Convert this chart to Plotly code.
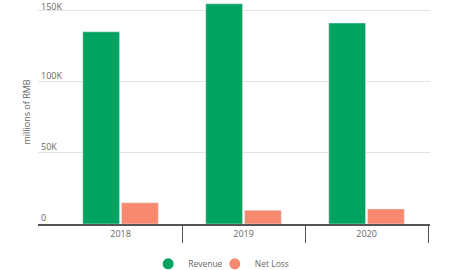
import plotly.graph_objects as go

years = ["2018", "2019", "2020"]
revenue = [135300, 155000, 141500]
net_loss = [14900, 9600, 10600]
series_names = ["Revenue", "Net Loss"]
colors = ["#00A360", "#F7896F"]
y_tick_vals = [0, 50000, 100000, 150000]
y_tick_text = ["0", "50K", "100K", "150K"]

font_family = "Open Sans"
text_color = "#666666"
y_range = [0, 157700]

fig = go.Figure()
for name, vals, col in zip(series_names, [revenue, net_loss], colors):
    fig.add_trace(go.Bar(x=years, y=vals, name=name, marker_color=col,
                         showlegend=False, hoverinfo="y"))
legend_ids = ["legend", "legend2"]
for name, col, lg in zip(series_names, colors, legend_ids):
    fig.add_trace(go.Scatter(x=[None], y=[None], mode="markers", name=name, legend=lg,
                             yaxis="y2",
                             marker=dict(symbol="circle", size=11, color=col)))

legend_common = dict(orientation="h", y=-0.178, yanchor="middle", xanchor="left",
                     font=dict(size=8.5, color=text_color), bgcolor="rgba(0,0,0,0)")

grid_color = "#E3E3E3"
fig.update_layout(
    width=450, height=270,
    margin=dict(l=38, r=20, t=0, b=46, autoexpand=False),
    paper_bgcolor="white", plot_bgcolor="white",
    barmode="group", bargap=0.37, bargroupgap=0.05,
    font=dict(family=font_family, size=9, color=text_color),
    showlegend=True,
    legend=dict(x=0.281, **legend_common),
    legend2=dict(x=0.451, **legend_common),
    xaxis=dict(
        type="category", range=[-0.671, 2.516], automargin=False,
        showline=True, linecolor="#555555", linewidth=1.5,
        ticks="outside", tickson="boundaries", ticklen=17, tickcolor="#555555",
        tickwidth=1,
        showgrid=False, tickfont=dict(size=9, color=text_color),
    ),
    yaxis=dict(
        range=y_range, tickvals=y_tick_vals[:-1], ticktext=y_tick_text[:-1], automargin=False,
        ticklabelposition="inside top", showgrid=True, gridcolor=grid_color,
        gridwidth=1, zeroline=False, showline=False,
        tickfont=dict(size=9, color=text_color),
        title=dict(text="millions of RMB", font=dict(size=9, color=text_color), standoff=8),
    ),
    yaxis2=dict(
        range=y_range, overlaying="y", side="left", automargin=False,
        tickvals=y_tick_vals[-1:], ticktext=y_tick_text[-1:],
        ticklabelposition="inside", ticklabelshift=-4, showgrid=True, gridcolor=grid_color,
        gridwidth=1, zeroline=False, showline=False,
        tickfont=dict(size=9, color=text_color),
    ),
)

fig.write_html("out.html")
